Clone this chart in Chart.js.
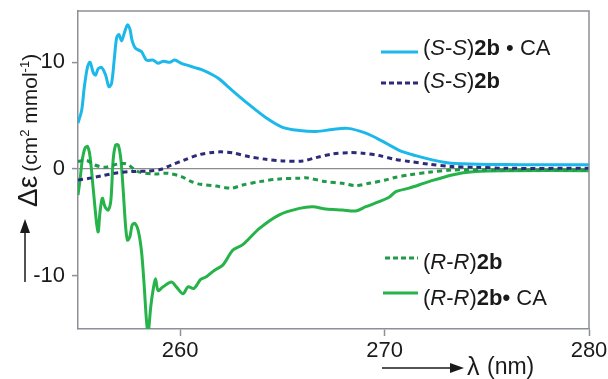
<!DOCTYPE html>
<html>
<head>
<meta charset="utf-8">
<script src="https://cdn.jsdelivr.net/npm/chart.js@4.4.1/dist/chart.umd.min.js"></script>
<style>
html,body{margin:0;padding:0;background:#fff;}
#wrap{width:608px;height:379px;position:relative;}
</style>
</head>
<body>
<div id="wrap"><canvas id="c" width="608" height="379"></canvas></div>
<script>
// ---- data (wavelength nm / Δε) ----
const xTicks = [260, 270, 280];
const yTicks = [-10, 0, 10];

const ssCA_x = [255.0,255.18,255.31,255.47,255.59,255.75,255.86,255.99,256.16,256.35,256.51,256.64,256.77,256.89,257.0,257.13,257.26,257.42,257.54,257.65,257.81,258.1,258.35,258.67,258.92,259.16,259.49,259.73,260.06,260.38,260.71,261.05,261.6,261.93,262.58,263.39,264.2,265.01,265.83,266.64,267.45,268.19,269.08,269.89,270.71,271.52,272.33,272.98,273.47,275.1,276.72,280.0];
const ssCA_y = [4.3,5.5,7.7,9.6,10.0,9.0,8.8,9.4,9.5,8.8,7.7,8.0,10.2,12.3,12.6,12.0,12.7,13.5,13.1,12.0,11.3,11.0,10.2,10.2,9.9,10.1,10.0,10.2,9.9,9.7,9.5,9.3,8.8,8.4,7.3,6.0,4.8,3.9,3.6,3.5,3.7,3.8,3.35,2.6,1.75,1.25,0.85,0.6,0.5,0.42,0.4,0.4];

const ss_x = [255.0,255.5,256.16,256.8,257.6,258.43,259.08,259.57,260.22,260.95,261.6,262.0,262.58,263.39,264.2,265.0,266.0,266.64,267.45,268.27,268.92,269.73,270.5,271.2,272.17,273.3,274.45,275.9,280.0];
const ss_y = [-1.03,-0.9,-0.65,-0.4,-0.25,-0.2,-0.03,0.37,0.85,1.35,1.55,1.6,1.5,1.15,0.9,0.75,0.75,1.06,1.4,1.53,1.47,1.25,0.9,0.7,0.44,0.22,0.16,0.06,0.06];

const rr_x = [255.0,255.42,255.83,256.3,256.97,257.37,257.94,258.76,259.4,260.06,260.55,261.0,261.76,262.5,263.06,263.88,264.85,265.83,266.15,267.13,267.94,268.59,269.24,270.05,270.5,271.2,272.17,273.3,274.77,280.0];
const rr_y = [0.7,0.8,0.37,0.15,0.47,0.47,-0.25,-0.47,-0.4,-0.72,-1.19,-1.44,-1.6,-1.8,-1.5,-1.19,-0.94,-0.87,-0.82,-1.19,-1.35,-1.57,-1.35,-1.03,-0.8,-0.56,-0.31,-0.1,-0.1,-0.1];

const rrCA_x = [255.0,255.1,255.21,255.34,255.47,255.59,255.75,255.91,255.99,256.07,256.19,256.32,256.48,256.61,256.72,256.84,256.97,257.1,257.21,257.33,257.42,257.54,257.65,257.78,257.94,258.1,258.23,258.35,258.43,258.56,258.67,258.79,258.92,259.16,259.57,259.81,260.14,260.38,260.67,261.0,261.28,261.68,262.09,262.58,263.06,263.88,264.85,265.83,266.48,267.13,267.94,268.59,269.08,269.73,270.22,270.55,271.2,272.17,273.3,274.45,275.9,280.0];
const rrCA_y = [-2.44,-1.03,0.85,1.94,2.1,1.15,-1.97,-5.1,-5.9,-4.16,-2.75,-3.54,-3.85,-2.9,0.85,2.25,2.25,0.85,-1.97,-5.4,-6.67,-6.35,-5.26,-5.1,-5.73,-7.6,-10.7,-14.2,-15.4,-12.9,-11.4,-10.3,-11.4,-11.05,-10.6,-11.05,-11.7,-11.05,-11.2,-10.35,-10.1,-9.5,-9.0,-7.6,-7.1,-5.57,-4.3,-3.7,-3.54,-3.76,-3.85,-3.94,-3.54,-3.07,-2.66,-2.13,-1.8,-1.19,-0.56,-0.25,-0.16,-0.16];

const labels = ["(S-S)2b•CA", "(S-S)2b", "(R-R)2b", "(R-R)2b•CA"];
const colors = { cyan: "#1db8ea", navy: "#2e2a7a", gdash: "#1f9a48", gsolid: "#25b34a" };

function pts(xs, ys){ return xs.map((x,i)=>({x:x, y:ys[i]})); }

const FONT = '"Liberation Sans", Arial, sans-serif';
const AXIS = '#8c9096';

function drawRich(ctx, x, y, parts, size){
  let cx = x;
  for (const p of parts){
    const sz = p.sup ? Math.round(size*0.62) : size;
    ctx.font = (p.i ? 'italic ' : '') + (p.b ? 'bold ' : '') + sz + 'px ' + FONT;
    const dy = p.sup ? -size*0.38 : 0;
    ctx.fillText(p.t, cx, y + dy);
    cx += ctx.measureText(p.t).width;
  }
  return cx;
}

const decor = {
  id: 'decor',
  afterDraw(chart){
    const ctx = chart.ctx, a = chart.chartArea;
    ctx.save();
    // frame top/right
    ctx.strokeStyle = AXIS; ctx.lineWidth = 1.5;
    ctx.beginPath();
    ctx.moveTo(a.left, a.top); ctx.lineTo(a.right, a.top); ctx.lineTo(a.right, a.bottom);
    ctx.stroke();

    // legend
    ctx.textBaseline = 'middle';
    const legend = [
      {ly:52, ty:49, x0:381, color:colors.cyan, dash:[], parts:[{t:'('},{t:'S',i:1},{t:'-'},{t:'S',i:1},{t:')'},{t:'2b',b:1},{t:' • '},{t:'CA'}]},
      {ly:83, ty:82, x0:381, color:colors.navy, dash:[5,3], parts:[{t:'('},{t:'S',i:1},{t:'-'},{t:'S',i:1},{t:')'},{t:'2b',b:1}]},
      {ly:258, ty:263, x0:385, color:colors.gdash, dash:[5,3], parts:[{t:'('},{t:'R',i:1},{t:'-'},{t:'R',i:1},{t:')'},{t:'2b',b:1}]},
      {ly:293, ty:299, x0:383, color:colors.gsolid, dash:[], parts:[{t:'('},{t:'R',i:1},{t:'-'},{t:'R',i:1},{t:')'},{t:'2b',b:1},{t:'•',b:1},{t:' CA'}]}
    ];
    for (const L of legend){
      ctx.strokeStyle = L.color; ctx.lineWidth = 3; ctx.setLineDash(L.dash);
      ctx.beginPath(); ctx.moveTo(L.x0, L.ly); ctx.lineTo(418, L.ly); ctx.stroke();
      ctx.setLineDash([]);
      ctx.fillStyle = '#1a1a1a';
      drawRich(ctx, 423, L.ty, L.parts, 22);
    }

    // y title rotated
    ctx.save();
    ctx.translate(37, 207);
    ctx.rotate(-Math.PI/2);
    ctx.textBaseline = 'alphabetic';
    ctx.fillStyle = '#1a1a1a';
    let cx = drawRich(ctx, 0, 0, [{t:'Δε'}], 28);
    drawRich(ctx, cx + 4, 0, [{t:'(cm'},{t:'2',sup:1},{t:' mmol'},{t:'-1',sup:1},{t:')'}], 21);
    ctx.restore();

    // y arrow
    ctx.strokeStyle = '#1a1a1a'; ctx.fillStyle = '#1a1a1a'; ctx.lineWidth = 1.5;
    ctx.beginPath(); ctx.moveTo(25, 282); ctx.lineTo(25, 230); ctx.stroke();
    ctx.beginPath(); ctx.moveTo(25, 219); ctx.lineTo(20, 233); ctx.lineTo(30, 233); ctx.closePath(); ctx.fill();

    // x arrow + label
    ctx.beginPath(); ctx.moveTo(382, 368); ctx.lineTo(452, 368); ctx.stroke();
    ctx.beginPath(); ctx.moveTo(464, 368); ctx.lineTo(450, 363); ctx.lineTo(450, 373); ctx.closePath(); ctx.fill();
    ctx.textBaseline = 'middle';
    drawRich(ctx, 467, 368, [{t:'λ'}], 25);
    drawRich(ctx, 487, 368, [{t:'(nm)'}], 23);
    ctx.restore();
  }
};

new Chart(document.getElementById('c'), {
  type: 'line',
  data: {
    datasets: [
      {label: labels[0], data: pts(ssCA_x, ssCA_y), borderColor: colors.cyan, borderWidth: 3, pointRadius: 0, tension: 0.3, fill:false},
      {label: labels[1], data: pts(ss_x, ss_y), borderColor: colors.navy, borderWidth: 3, borderDash: [5,4], pointRadius: 0, tension: 0.3, fill:false},
      {label: labels[2], data: pts(rr_x, rr_y), borderColor: colors.gdash, borderWidth: 3, borderDash: [5,4], pointRadius: 0, tension: 0.3, fill:false},
      {label: labels[3], data: pts(rrCA_x, rrCA_y), borderColor: colors.gsolid, borderWidth: 3, pointRadius: 0, tension: 0.3, fill:false}
    ]
  },
  options: {
    responsive: false,
    animation: false,
    devicePixelRatio: 1,
    layout: { padding: { top: 11, right: 19, left: 0, bottom: 0 } },
    plugins: { legend: { display: false }, tooltip: { enabled: false } },
    scales: {
      x: {
        type: 'linear', min: 255, max: 280,
        afterBuildTicks: s => { s.ticks = xTicks.map(v => ({value: v})); },
        afterFit: s => { s.height = 50; s.paddingLeft = 0; s.paddingRight = 0; },
        grid: { drawOnChartArea: false, tickLength: 7, tickColor: AXIS, tickWidth: 1.5 },
        border: { display: true, color: AXIS, width: 1.5 },
        ticks: { color: '#1a1a1a', font: { family: FONT, size: 22 }, padding: 2, maxRotation: 0 }
      },
      y: {
        type: 'linear', min: -15, max: 14.8,
        afterBuildTicks: s => { s.ticks = yTicks.map(v => ({value: v})); },
        afterFit: s => { s.width = 78; s.paddingTop = 0; s.paddingBottom = 0; },
        grid: {
          color: c => (c.tick && c.tick.value === 0) ? '#8c8c8c' : 'rgba(0,0,0,0)',
          lineWidth: 1.2, tickLength: 6, tickColor: AXIS, tickWidth: 1.5
        },
        border: { display: true, color: AXIS, width: 1.5 },
        ticks: { color: '#1a1a1a', font: { family: FONT, size: 22 }, padding: 7 }
      }
    }
  },
  plugins: [decor]
});
</script>
</body>
</html>
